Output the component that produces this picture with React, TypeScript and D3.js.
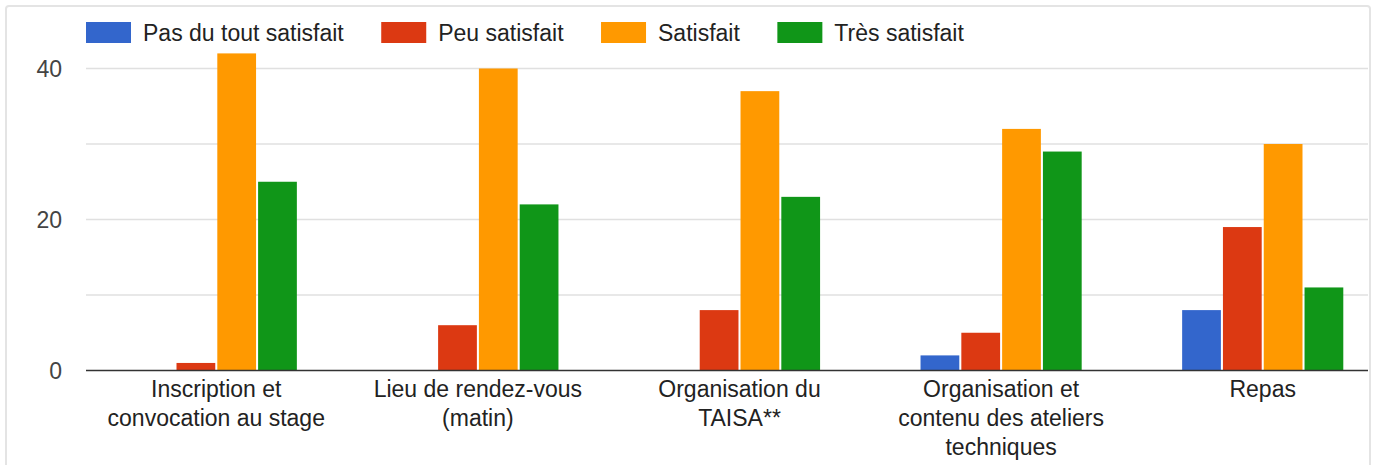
import React, { useEffect, useRef } from "react";
import * as d3 from "d3";

const categories = [
  ["Inscription et", "convocation au stage"],
  ["Lieu de rendez-vous", "(matin)"],
  ["Organisation du", "TAISA**"],
  ["Organisation et", "contenu des ateliers", "techniques"],
  ["Repas"],
];
const seriesNames = ["Pas du tout satisfait", "Peu satisfait", "Satisfait", "Très satisfait"];
const seriesColors = ["#3366cc", "#dc3912", "#ff9900", "#109618"];

const pasDuTout = [0, 0, 0, 2, 8];
const peu = [1, 6, 8, 5, 19];
const satisfait = [42, 40, 37, 32, 30];
const tres = [25, 22, 23, 29, 11];

const gridTicks = [0, 10, 20, 30, 40];
const labelTicks = [0, 20, 40];

const WIDTH = 1378;
const HEIGHT = 465;
const FONT = "Arial, 'Liberation Sans', sans-serif";

export default function App() {
  const ref = useRef<SVGSVGElement>(null);

  useEffect(() => {
    document.body.style.margin = "0";
    const svg = d3.select(ref.current);
    svg.selectAll("*").remove();

    const plotLeft = 86;
    const plotRight = 1368;
    const series = [pasDuTout, peu, satisfait, tres];
    const keys = categories.map((c) => c.join(" "));

    // frame
    svg
      .append("rect")
      .attr("x", 6)
      .attr("y", 6)
      .attr("width", 1364)
      .attr("height", 480)
      .attr("rx", 3)
      .attr("fill", "#fff")
      .attr("stroke", "#e4e4e4")
      .attr("stroke-width", 2);

    const y = d3.scaleLinear().domain([0, 40]).range([370.5, 68.5]);

    const x0 = d3
      .scaleBand<string>()
      .domain(keys)
      .range([plotLeft, 1393])
      .paddingInner(0.384)
      .paddingOuter(0.19);

    const x1 = d3
      .scaleBand<number>()
      .domain(d3.range(series.length))
      .range([0, x0.bandwidth()])
      .paddingInner(0.05);

    // gridlines
    svg
      .append("g")
      .selectAll("line")
      .data(gridTicks.filter((t) => t > 0))
      .enter()
      .append("line")
      .attr("x1", plotLeft)
      .attr("x2", plotRight)
      .attr("y1", (d) => y(d))
      .attr("y2", (d) => y(d))
      .attr("stroke", "#e0e0e0")
      .attr("stroke-width", 1.5);

    // y labels
    svg
      .append("g")
      .selectAll("text")
      .data(labelTicks)
      .enter()
      .append("text")
      .attr("x", 62)
      .attr("y", (d) => y(d))
      .attr("dy", "0.36em")
      .attr("text-anchor", "end")
      .attr("font-family", FONT)
      .attr("font-size", 23)
      .attr("fill", "#444")
      .text((d) => d);

    // bars
    const groups = svg
      .append("g")
      .selectAll("g")
      .data(keys)
      .enter()
      .append("g")
      .attr("transform", (d) => "translate(" + x0(d) + ",0)");

    groups
      .selectAll("rect")
      .data((d, i) => series.map((s, j) => ({ j, v: s[i] })))
      .enter()
      .append("rect")
      .attr("x", (d) => x1(d.j) as number)
      .attr("width", x1.bandwidth())
      .attr("y", (d) => y(d.v))
      .attr("height", (d) => y(0) - y(d.v))
      .attr("fill", (d) => seriesColors[d.j]);

    // baseline
    svg
      .append("line")
      .attr("x1", plotLeft)
      .attr("x2", plotRight)
      .attr("y1", y(0))
      .attr("y2", y(0))
      .attr("stroke", "#333")
      .attr("stroke-width", 1.5);

    // x labels
    const labels = svg
      .append("g")
      .selectAll("text")
      .data(categories)
      .enter()
      .append("text")
      .attr("x", (d, i) => (x0(keys[i]) as number) + x0.bandwidth() / 2)
      .attr("y", 397)
      .attr("text-anchor", "middle")
      .attr("font-family", FONT)
      .attr("font-size", 23)
      .attr("fill", "#222");

    labels
      .selectAll("tspan")
      .data((d) => d)
      .enter()
      .append("tspan")
      .attr("x", function () {
        return (this.parentNode as SVGTextElement).getAttribute("x");
      })
      .attr("dy", (d, i) => (i === 0 ? 0 : 29))
      .text((d) => d);

    // legend
    const legend = svg.append("g");
    let lx = 86;
    seriesNames.forEach((name, i) => {
      legend
        .append("rect")
        .attr("x", lx)
        .attr("y", 22)
        .attr("width", 45)
        .attr("height", 21)
        .attr("fill", seriesColors[i]);
      const t = legend
        .append("text")
        .attr("x", lx + 57)
        .attr("y", 41)
        .attr("font-family", FONT)
        .attr("font-size", 23)
        .attr("fill", "#222")
        .text(name);
      const w = (t.node() as SVGTextElement).getComputedTextLength();
      lx = lx + 57 + w + 37.5;
    });
  }, []);

  return <svg ref={ref} width={WIDTH} height={HEIGHT} style={{ display: "block" }} />;
}
